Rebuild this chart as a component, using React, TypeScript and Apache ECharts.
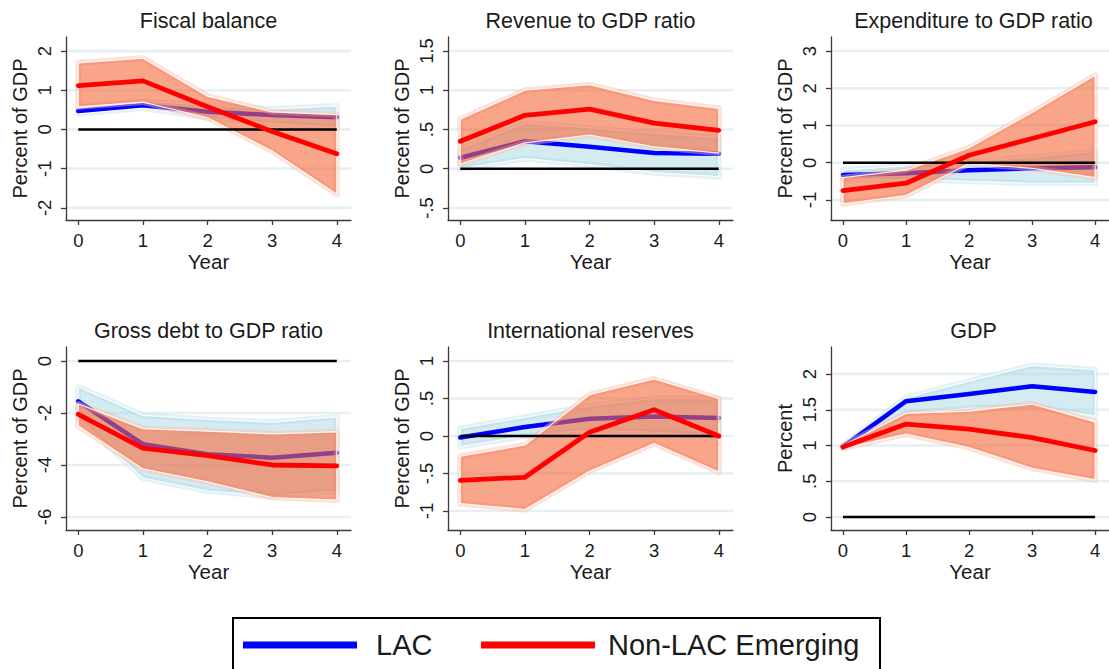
import React, { useEffect, useRef } from 'react';
import * as echarts from 'echarts';

const FONT = '"Liberation Sans", Arial, Helvetica, sans-serif';

// ---------------- data ----------------
const years = [0, 1, 2, 3, 4];
const titles = [
  'Fiscal balance',
  'Revenue to GDP ratio',
  'Expenditure to GDP ratio',
  'Gross debt to GDP ratio',
  'International reserves',
  'GDP',
];
const yNames = ['Percent of GDP', 'Percent of GDP', 'Percent of GDP', 'Percent of GDP', 'Percent of GDP', 'Percent'];
const xName = 'Year';
const legendLabels = ['LAC', 'Non-LAC Emerging'];

// y tick values and labels per panel
const fbTicks = [-2, -1, 0, 1, 2];
const fbTickLabels = ['-2', '-1', '0', '1', '2'];
const rvTicks = [-0.5, 0, 0.5, 1, 1.5];
const rvTickLabels = ['-.5', '0', '.5', '1', '1.5'];
const exTicks = [-1, 0, 1, 2, 3];
const exTickLabels = ['-1', '0', '1', '2', '3'];
const gdTicks = [-6, -4, -2, 0];
const gdTickLabels = ['-6', '-4', '-2', '0'];
const irTicks = [-1, -0.5, 0, 0.5, 1];
const irTickLabels = ['-1', '-.5', '0', '.5', '1'];
const gTicks = [0, 0.5, 1, 1.5, 2];
const gTickLabels = ['0', '.5', '1', '1.5', '2'];

// Fiscal balance
const fbLac = [0.47, 0.62, 0.45, 0.37, 0.31];
const fbLacLo = [0.4, 0.55, 0.3, 0.15, 0.05];
const fbLacHi = [0.55, 0.72, 0.62, 0.52, 0.6];
const fbNon = [1.12, 1.24, 0.58, -0.05, -0.62];
const fbNonLo = [0.58, 0.7, 0.3, -0.55, -1.65];
const fbNonHi = [1.7, 1.82, 0.85, 0.45, 0.38];

// Revenue to GDP
const rvLac = [0.14, 0.35, 0.28, 0.2, 0.19];
const rvLacLo = [0.0, 0.13, 0.05, -0.05, -0.1];
const rvLacHi = [0.25, 0.58, 0.52, 0.45, 0.4];
const rvNon = [0.35, 0.68, 0.76, 0.58, 0.49];
const rvNonLo = [0.06, 0.33, 0.43, 0.28, 0.2];
const rvNonHi = [0.63, 1.0, 1.07, 0.87, 0.77];

// Expenditure to GDP
const exLac = [-0.33, -0.28, -0.2, -0.15, -0.12];
const exLacLo = [-0.45, -0.45, -0.5, -0.55, -0.55];
const exLacHi = [-0.2, -0.08, 0.02, 0.15, 0.3];
const exNon = [-0.75, -0.55, 0.2, 0.65, 1.1];
const exNonLo = [-1.1, -0.88, -0.02, -0.15, -0.4];
const exNonHi = [-0.4, -0.2, 0.4, 1.35, 2.35];

// Gross debt to GDP
const gdLac = [-1.55, -3.2, -3.59, -3.72, -3.53];
const gdLacLo = [-2.2, -4.5, -5.0, -5.2, -5.0];
const gdLacHi = [-1.0, -2.09, -2.25, -2.35, -2.15];
const gdNon = [-2.05, -3.35, -3.64, -4.0, -4.03];
const gdNonLo = [-2.5, -4.15, -4.65, -5.25, -5.35];
const gdNonHi = [-1.65, -2.6, -2.7, -2.8, -2.73];

// International reserves
const irLac = [-0.02, 0.12, 0.23, 0.26, 0.24];
const irLacLo = [-0.14, 0.0, 0.08, 0.05, 0.0];
const irLacHi = [0.1, 0.25, 0.4, 0.5, 0.5];
const irNon = [-0.59, -0.55, 0.05, 0.35, 0.0];
const irNonLo = [-0.9, -0.98, -0.47, -0.1, -0.48];
const irNonHi = [-0.27, -0.12, 0.55, 0.76, 0.5];

// GDP
const gLac = [0.98, 1.62, 1.72, 1.83, 1.75];
const gLacLo = [0.96, 1.45, 1.52, 1.55, 1.41];
const gLacHi = [1.0, 1.67, 1.9, 2.12, 2.06];
const gNon = [0.98, 1.3, 1.23, 1.11, 0.93];
const gNonLo = [0.96, 1.16, 0.97, 0.68, 0.52];
const gNonHi = [1.0, 1.45, 1.48, 1.58, 1.33];

// ---------------- layout ----------------
const panels = [
  { ticks: fbTicks, labels: fbTickLabels, yMin: -2.31, yMax: 2.36, lac: fbLac, lacLo: fbLacLo, lacHi: fbLacHi, non: fbNon, nonLo: fbNonLo, nonHi: fbNonHi },
  { ticks: rvTicks, labels: rvTickLabels, yMin: -0.653, yMax: 1.678, lac: rvLac, lacLo: rvLacLo, lacHi: rvLacHi, non: rvNon, nonLo: rvNonLo, nonHi: rvNonHi },
  { ticks: exTicks, labels: exTickLabels, yMin: -1.537, yMax: 3.376, lac: exLac, lacLo: exLacLo, lacHi: exLacHi, non: exNon, nonLo: exNonLo, nonHi: exNonHi },
  { ticks: gdTicks, labels: gdTickLabels, yMin: -6.5, yMax: 0.538, lac: gdLac, lacLo: gdLacLo, lacHi: gdLacHi, non: gdNon, nonLo: gdNonLo, nonHi: gdNonHi },
  { ticks: irTicks, labels: irTickLabels, yMin: -1.253, yMax: 1.187, lac: irLac, lacLo: irLacLo, lacHi: irLacHi, non: irNon, nonLo: irNonLo, nonHi: irNonHi },
  { ticks: gTicks, labels: gTickLabels, yMin: -0.182, yMax: 2.378, lac: gLac, lacLo: gLacLo, lacHi: gLacHi, non: gNon, nonLo: gNonLo, nonHi: gNonHi },
];

const colLefts = [66, 448, 831];
const rowTops = [37, 347];
const GRID_W = 285;
const GRID_H = 183;
const X_MIN = -0.19;
const X_MAX = 4.22;

const AXIS_COLOR = '#3a3a3a';
const TEXT_COLOR = '#1a1a1a';
const GRIDLINE_COLOR = '#e6eff1';
const LAC_COLOR = '#0000ff';
const NON_COLOR = '#ff0000';
const LAC_FILL = 'rgba(173,216,230,0.52)';
const LAC_FRINGE = 'rgba(205,230,238,0.55)';
const NON_FILL = 'rgba(245,105,60,0.6)';
const NON_FRINGE = 'rgba(250,190,170,0.45)';

function bandSeries(idx: number, lo: number[], hi: number[], fill: string, fringe: string, z: number) {
  return {
    type: 'custom',
    xAxisIndex: idx,
    yAxisIndex: idx,
    silent: true,
    clip: false,
    z,
    data: [[0, 0]],
    renderItem: (_params: any, api: any) => {
      const pts: number[][] = [];
      years.forEach((x, i) => pts.push(api.coord([x, hi[i]])));
      for (let i = years.length - 1; i >= 0; i--) pts.push(api.coord([years[i], lo[i]]));
      return {
        type: 'group',
        children: [
          { type: 'polygon', shape: { points: pts }, style: { fill: 'none', stroke: fringe, lineWidth: 6, lineJoin: 'round' } },
          { type: 'polygon', shape: { points: pts }, style: { fill, stroke: 'none' } },
          { type: 'polygon', shape: { points: pts }, style: { fill: 'none', stroke: 'rgba(255,255,255,0.85)', lineWidth: 1.2, lineJoin: 'round' } },
        ],
      };
    },
  };
}

function lineSeries(idx: number, vals: number[], color: string, width: number, z: number) {
  return {
    type: 'line',
    xAxisIndex: idx,
    yAxisIndex: idx,
    silent: true,
    symbol: 'none',
    z,
    data: years.map((x, i) => [x, vals[i]]),
    lineStyle: { color, width, cap: 'round', join: 'round' },
    itemStyle: { color },
  };
}

export default function App() {
  const ref = useRef<HTMLDivElement>(null);

  useEffect(() => {
    if (!ref.current) return;
    const chart = echarts.init(ref.current, null, { renderer: 'svg' });

    const grids: any[] = [];
    const xAxes: any[] = [];
    const yAxes: any[] = [];
    const series: any[] = [];
    const graphics: any[] = [];

    panels.forEach((p, i) => {
      const col = i % 3;
      const row = Math.floor(i / 3);
      const left = colLefts[col];
      const top = rowTops[row];
      grids.push({ left, top, width: GRID_W, height: GRID_H, containLabel: false });

      xAxes.push({
        gridIndex: i,
        type: 'value',
        min: X_MIN,
        max: X_MAX,
        z: 10,
        axisLine: { show: true, onZero: false, lineStyle: { color: AXIS_COLOR, width: 1.3 } },
        axisTick: { show: true, length: 5, customValues: years, lineStyle: { color: AXIS_COLOR, width: 1.3 } },
        axisLabel: { customValues: years, margin: 11, fontSize: 18.5, color: TEXT_COLOR, fontFamily: FONT, formatter: (v: number) => String(v) },
        splitLine: { show: false },
        name: xName,
        nameLocation: 'middle',
        nameGap: 31,
        nameTextStyle: { fontSize: 20.5, color: TEXT_COLOR, fontFamily: FONT },
      });

      yAxes.push({
        gridIndex: i,
        type: 'value',
        min: p.yMin,
        max: p.yMax,
        z: 10,
        axisLine: { show: true, onZero: false, lineStyle: { color: AXIS_COLOR, width: 1.3 } },
        axisTick: { show: true, length: 5, customValues: p.ticks, lineStyle: { color: AXIS_COLOR, width: 1.3 } },
        axisLabel: {
          customValues: p.ticks,
          rotate: 90,
          margin: 12,
          fontSize: 18.5,
          color: TEXT_COLOR,
          fontFamily: FONT,
          formatter: (v: number) => {
            const k = p.ticks.findIndex((t) => Math.abs(t - v) < 1e-9);
            return k >= 0 ? p.labels[k] : '';
          },
        },
        splitLine: { show: false },
        name: yNames[i],
        nameLocation: 'middle',
        nameGap: 36,
        nameTextStyle: { fontSize: 20, color: TEXT_COLOR, fontFamily: FONT },
      });

      // horizontal gridlines at tick values
      p.ticks.forEach((t) => {
        series.push({
          type: 'line',
          xAxisIndex: i,
          yAxisIndex: i,
          silent: true,
          symbol: 'none',
          z: 1,
          data: [[X_MIN, t], [X_MAX, t]],
          lineStyle: { color: GRIDLINE_COLOR, width: 2.6 },
          itemStyle: { color: GRIDLINE_COLOR },
        });
      });

      series.push(bandSeries(i, p.lacLo, p.lacHi, LAC_FILL, LAC_FRINGE, 2));
      series.push(lineSeries(i, p.lac, LAC_COLOR, 4.5, 3));
      series.push(bandSeries(i, p.nonLo, p.nonHi, NON_FILL, NON_FRINGE, 4));
      // zero reference line
      series.push({
        type: 'line',
        xAxisIndex: i,
        yAxisIndex: i,
        silent: true,
        symbol: 'none',
        z: 5,
        data: [[years[0], 0], [years[years.length - 1], 0]],
        lineStyle: { color: '#000', width: 2.6 },
        itemStyle: { color: '#000' },
      });
      series.push(lineSeries(i, p.non, NON_COLOR, 4.8, 6));

      graphics.push({
        type: 'text',
        x: left + GRID_W / 2,
        y: row === 0 ? 21 : 331,
        style: { text: titles[i], fontSize: 21.5, fontFamily: FONT, fill: TEXT_COLOR, textAlign: 'center', textVerticalAlign: 'middle' },
      });
    });

    // legend box
    graphics.push({
      type: 'rect',
      shape: { x: 233, y: 618, width: 647, height: 70 },
      style: { fill: '#fff', stroke: '#000', lineWidth: 2 },
    });
    graphics.push({ type: 'line', shape: { x1: 243, y1: 645, x2: 357, y2: 645 }, style: { stroke: LAC_COLOR, lineWidth: 7 } });
    graphics.push({
      type: 'text', x: 376, y: 645,
      style: { text: legendLabels[0], fontSize: 29, fontFamily: FONT, fill: TEXT_COLOR, textAlign: 'left', textVerticalAlign: 'middle' },
    });
    graphics.push({ type: 'line', shape: { x1: 481, y1: 645, x2: 595, y2: 645 }, style: { stroke: NON_COLOR, lineWidth: 7 } });
    graphics.push({
      type: 'text', x: 608, y: 645,
      style: { text: legendLabels[1], fontSize: 29, fontFamily: FONT, fill: TEXT_COLOR, textAlign: 'left', textVerticalAlign: 'middle' },
    });

    chart.setOption({
      animation: false,
      backgroundColor: '#fff',
      textStyle: { fontFamily: FONT },
      grid: grids,
      xAxis: xAxes,
      yAxis: yAxes,
      series,
      graphic: graphics,
    });

    return () => chart.dispose();
  }, []);

  return (
    <div
      ref={ref}
      style={{ position: 'absolute', left: 0, top: 0, width: 1109, height: 669, background: '#fff' }}
    />
  );
}
